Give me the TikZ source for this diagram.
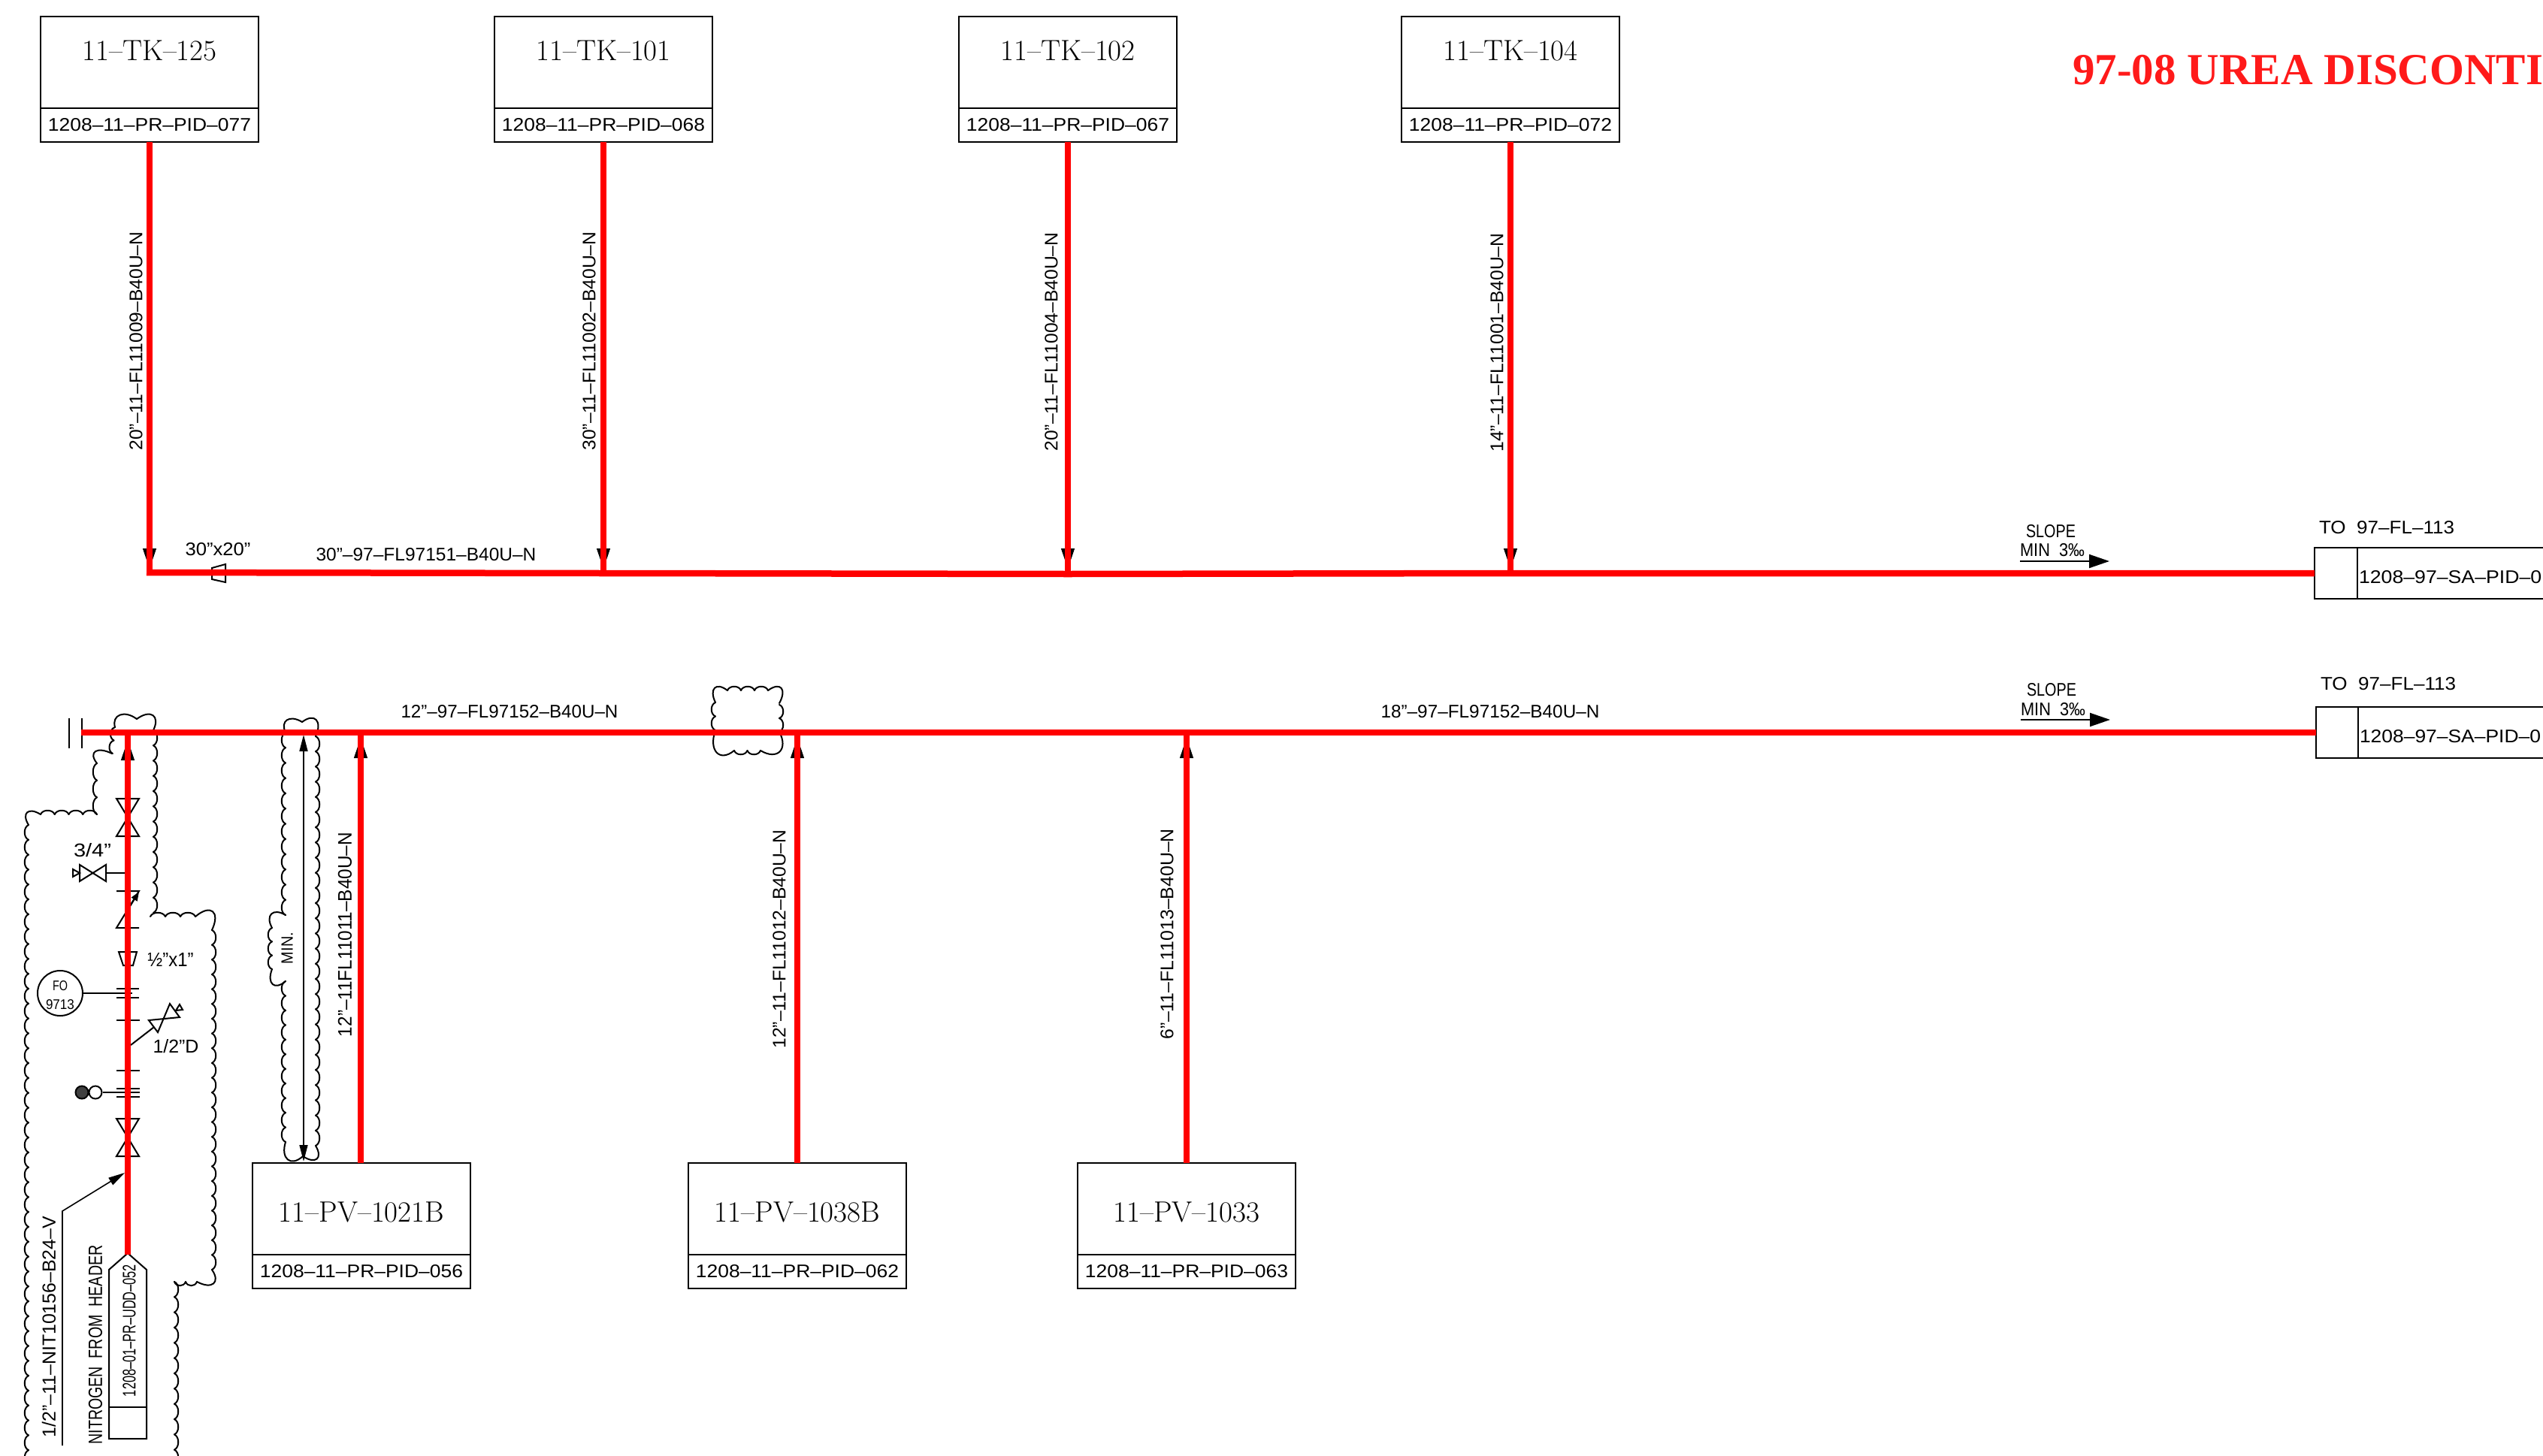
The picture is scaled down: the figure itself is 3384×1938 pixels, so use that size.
\documentclass[tikz,border=0pt]{standalone}
\usepackage{graphicx}
\usepackage{fontspec}
\newfontfamily\cad{Liberation Sans}
\newfontfamily\redserif{Liberation Serif}
\usetikzlibrary{arrows.meta}
\definecolor{pipered}{RGB}{255,0,0}
\definecolor{titlered}{RGB}{255,26,26}
\newcommand{\T}[3]{\resizebox{#1pt}{#2pt}{\cad #3}}
\tikzset{
  x=1pt,y=-1pt,
  lineblk/.style={draw=black,line width=2pt,line join=miter},
  tagbox/.style={draw=black,line width=2pt,inner sep=0pt,outer sep=0pt,fill=none},
  txt/.style={inner sep=0pt,outer sep=0pt,text=black},
  pipe/.style={draw=pipered,line width=8.5pt,line cap=butt},
  headtip/.style={draw=black,line width=1pt,-{Triangle[width=18pt,length=27pt]}},
  cloudline/.style={draw=black,line width=2pt,line cap=round},
  smallhead/.style={draw=black,line width=1.6pt,{Triangle[width=11pt,length=22pt]}-{Triangle[width=11pt,length=22pt]}},
  leader/.style={draw=black,line width=1.6pt,-{Triangle[width=11pt,length=22pt]}},
  slopearrow/.style={draw=black,line width=2pt,-{Triangle[width=18pt,length=27pt]}},
}
% scalloped edge, bulging outward for a clockwise outline
\newcommand{\scal}[4]{%
  \pgfmathsetmacro{\scLen}{veclen(#3-(#1),#4-(#2))}%
  \pgfmathtruncatemacro{\scN}{max(1,round(\scLen/20))}%
  \pgfmathsetmacro{\scUx}{(#3-(#1))/\scN}%
  \pgfmathsetmacro{\scUy}{(#4-(#2))/\scN}%
  \pgfmathsetmacro{\scNx}{(#4-(#2))/\scLen*7}%
  \pgfmathsetmacro{\scNy}{-(#3-(#1))/\scLen*7}%
  \foreach \i in {1,...,\scN}{%
    \draw[cloudline] ({#1+(\i-1)*\scUx},{#2+(\i-1)*\scUy})
      .. controls ({#1+(\i-0.85)*\scUx+\scNx},{#2+(\i-0.85)*\scUy+\scNy})
      and ({#1+(\i-0.15)*\scUx+\scNx},{#2+(\i-0.15)*\scUy+\scNy})
      .. ({#1+\i*\scUx},{#2+\i*\scUy});
  }%
}
\newcommand{\crn}[6]{\draw[cloudline] (#1,#2) .. controls ({#3+0.3*(#1-(#5))},{#4+0.3*(#2-(#6))}) and ({#3+0.3*(#5-(#1))},{#4+0.3*(#6-(#2))}) .. (#5,#6);}
\newcommand{\tagnode}[8]{%name cx top bottom div title label titley
  \node[tagbox,minimum width=290pt,minimum height={(#4-#3)*1pt}] (#1) at (#2,{(#3+#4)/2}) {};
  \coordinate (#1d) at (0,#5);
  \draw[lineblk] (#1.west |- #1d) -- (#1.east |- #1d);
  \node[txt] (#1t) at (#2,#8) {\fontsize{39}{44}\selectfont #6};
  \node[txt] (#1l) at (#2,{(#5+#4)/2}) {\T{270}{17}{#7}};
}
\begin{document}
\begin{tikzpicture}
\useasboundingbox (0,0) rectangle (3384,1938);
% cloud 1
\scal{38}{1950}{38}{1098}
\crn{38}{1098}{33}{1078}{54}{1084}
\scal{54}{1084}{129}{1084}
\scal{129}{1084}{129}{1016}
\crn{129}{1016}{123}{997}{149}{1003}
\scal{150}{1003}{153}{968}
\crn{153}{968}{157}{948}{182}{957}
\crn{182}{957}{207}{948}{204}{972}
\scal{204}{972}{204}{1215}
\scal{200}{1220}{260}{1220}
\crn{260}{1220}{287}{1208}{282}{1238}
\scal{282}{1238}{282}{1690}
\crn{282}{1690}{288}{1712}{262}{1706}
\scal{262}{1706}{232}{1706}
\scal{232}{1706}{232}{1950}
% cloud 2
\scal{380}{1218}{380}{975}
\crn{380}{975}{379}{955}{402}{961}
\crn{402}{961}{424}{954}{420}{980}
\scal{420}{980}{420}{1525}
\crn{420}{1525}{425}{1546}{403}{1539}
\crn{403}{1539}{380}{1548}{380}{1520}
\scal{380}{1520}{380}{1306}
\crn{380}{1306}{360}{1314}{362}{1290}
\scal{362}{1290}{362}{1235}
\crn{362}{1235}{358}{1213}{380}{1218}
% cloud 3
\crn{952}{935}{948}{912}{968}{919}
\scal{968}{919}{1022}{919}
\crn{1022}{919}{1043}{912}{1037}{936}
\scal{1037}{938}{1037}{974}
\crn{1037}{974}{1042}{1005}{1012}{999}
\scal{1012}{999}{977}{999}
\crn{977}{999}{950}{1007}{952}{972}
\scal{952}{972}{952}{935}

% boxes
\tagnode{tka}{199}{22}{189}{144}{11–TK–125}{1208–11–PR–PID–077}{67}
\tagnode{tkb}{803}{22}{189}{144}{11–TK–101}{1208–11–PR–PID–068}{67}
\tagnode{tkc}{1421}{22}{189}{144}{11–TK–102}{1208–11–PR–PID–067}{67}
\tagnode{tkd}{2010}{22}{189}{144}{11–TK–104}{1208–11–PR–PID–072}{67}
\tagnode{pva}{481}{1548}{1715}{1670}{11–PV–1021B}{1208–11–PR–PID–056}{1613}
\tagnode{pvb}{1061}{1548}{1715}{1670}{11–PV–1038B}{1208–11–PR–PID–062}{1613}
\tagnode{pvc}{1579}{1548}{1715}{1670}{11–PV–1033}{1208–11–PR–PID–063}{1613}

% off-page tags (right)
\node[tagbox,minimum width=340pt,minimum height=68pt] (toa) at (3250,763) {};
\node[tagbox,minimum width=340pt,minimum height=68pt] (tob) at (3252,975) {};
\coordinate (toad) at (3137,0);
\coordinate (tobd) at (3138,0);
\draw[lineblk] (toad |- toa.north) -- (toad |- toa.south);
\draw[lineblk] (tobd |- tob.north) -- (tobd |- tob.south);
\node[txt,anchor=west] (toal) at (3139,768) {\T{258}{17}{1208–97–SA–PID–01}};
\node[txt,anchor=west] (tobl) at (3140,980) {\T{241}{17}{1208–97–SA–PID–0}};
\node[txt] (toat) at (3176,702) {\T{180}{17}{TO\ \ 97–FL–113}};
\node[txt] (tobt) at (3178,910) {\T{180}{17}{TO\ \ 97–FL–113}};

% junctions and arrow tips
\coordinate (ja) at (199,762);
\coordinate (jb) at (803,763);
\coordinate (jc) at (1421,764);
\coordinate (jd) at (2010,763);
\coordinate (capr) at (108,975);
\coordinate (ke) at (170,975);
\coordinate (kf) at (480,975);
\coordinate (kg) at (1061,975);
\coordinate (kh) at (1579,975);
\coordinate (ta) at (199,757);
\coordinate (tb) at (803,757);
\coordinate (tc) at (1421,757);
\coordinate (td) at (2010,757);
\coordinate (te) at (170,985);
\coordinate (tf) at (480,982);
\coordinate (tg) at (1061,982);
\coordinate (th) at (1579,982);
\coordinate (nit) at (170,1670);

% arrowheads below the red pipes
\draw[headtip] (tka.south) -- (ta);
\draw[headtip] (tkb.south) -- (tb);
\draw[headtip] (tkc.south) -- (tc);
\draw[headtip] (tkd.south) -- (td);
\draw[headtip] (nit) -- (te);
\draw[headtip] (pva.north -| kf) -- (tf);
\draw[headtip] (pvb.north) -- (tg);
\draw[headtip] (pvc.north) -- (th);

% loop arrow
\coordinate (lt) at (404,978);
\coordinate (lb) at (404,1546);
\draw[smallhead] (lt) -- (lb);

% reducer on upper header
\draw[lineblk] (282,756) -- (300,751) -- (300,775) -- (282,771) -- cycle;

% instruments on the nitrogen line
\coordinate (v1a) at (155,1063); \coordinate (v1b) at (185,1063); \coordinate (v1c) at (155,1113); \coordinate (v1d) at (185,1113);
\draw[lineblk] (v1a) -- (v1b) -- (v1c) -- (v1d) -- cycle;
\coordinate (v2a) at (155,1489); \coordinate (v2b) at (185,1489); \coordinate (v2c) at (155,1539); \coordinate (v2d) at (185,1539);
\draw[lineblk] (v2a) -- (v2b) -- (v2c) -- (v2d) -- cycle;
\draw[lineblk] (106,1151) -- (141,1173) -- (141,1151) -- (106,1173) -- cycle;
\draw[lineblk] (97,1157) -- (106,1162) -- (97,1167) -- cycle;
\draw[lineblk] (141,1162) -- (167,1162);
\draw[lineblk] (155,1186) -- (185,1186) -- (155,1235) -- (185,1235);
\draw[draw=black,line width=2pt,-{Triangle[width=9pt,length=12pt]}] (170,1211) -- (185,1187);
\draw[lineblk] (158,1267) -- (182,1267) -- (177,1285) -- (164,1285) -- cycle;
\node[draw=black,line width=2pt,circle,minimum size=60pt,inner sep=0pt] (fo) at (80,1322) {};
\node[txt] (fot) at (80,1312) {\T{20}{13}{FO}};
\node[txt] (fon) at (80,1337) {\T{38}{13}{9713}};
\coordinate (orl) at (155,1322);
\draw[lineblk] (fo.east) -- (orl) -- (176,1322);
\draw[lineblk] (155,1316) -- (185,1316);
\draw[lineblk] (155,1328) -- (185,1328);
\draw[lineblk] (155,1358) -- (186,1358);
\draw[lineblk] (155,1425) -- (186,1425);
\draw[lineblk] (174,1391) -- (205,1367);
\draw[lineblk] (198,1358) -- (239,1354) -- (226,1336) -- (210,1374) -- cycle;
\draw[lineblk] (234,1345) -- (239,1337) -- (243,1344) -- cycle;
\node[circle,draw=black,fill=black!75,line width=2pt,minimum size=17pt,inner sep=0pt] (gd) at (109,1454) {};
\node[circle,draw=black,fill=white,line width=2pt,minimum size=17pt,inner sep=0pt] (wd) at (127,1454) {};
\coordinate (wde) at (186,1454);
\draw[lineblk] (wd.east) -- (wde);
\draw[lineblk] (155,1449) -- (186,1449);
\draw[lineblk] (155,1460) -- (186,1460);

% leader
\coordinate (lda) at (83,1924);
\coordinate (ldb) at (83,1612);
\coordinate (ldc) at (166,1561);
\draw[leader] (lda) -- (ldb) -- (ldc);

% off-page connector
\draw[lineblk] (145,1915) -- (145,1690) -- (170,1668) -- (195,1690) -- (195,1915) -- cycle;
\draw[lineblk] (145,1873) -- (195,1873);

% caps
\draw[lineblk] (92,956) -- (92,996);
\draw[lineblk] (109,956) -- (109,996);

% red pipes
\draw[pipe] (tka.south) -- (199,766);
\draw[pipe] (tkb.south) -- (jb);
\draw[pipe] (tkc.south) -- (jc);
\draw[pipe] (tkd.south) -- (jd);
\draw[pipe] (195,762) -- (jb) -- (jc) -- (jd) -- (toa.west);
\draw[pipe] (capr) -- (tob.west);
\draw[pipe] (nit) -- (170,971);
\draw[pipe] (pva.north -| kf) -- (kf);
\draw[pipe] (pvb.north) -- (kg);
\draw[pipe] (pvc.north) -- (kh);

% pipe labels
\node[txt,rotate=90] (la) at (181,454) {\T{291}{17}{20”–11–FL11009–B40U–N}};
\node[txt,rotate=90] (lb2) at (784,454) {\T{291}{17}{30”–11–FL11002–B40U–N}};
\node[txt,rotate=90] (lc) at (1399,455) {\T{291}{17}{20”–11–FL11004–B40U–N}};
\node[txt,rotate=90] (ld) at (1992,456) {\T{291}{17}{14”–11–FL11001–B40U–N}};
\node[txt] (le) at (567,738) {\T{293}{17}{30”–97–FL97151–B40U–N}};
\node[txt] (lf) at (290,731) {\T{87}{17}{30”x20”}};
\node[txt] (lg) at (678,947) {\T{289}{17}{12”–97–FL97152–B40U–N}};
\node[txt] (lh) at (1983,947) {\T{291}{17}{18”–97–FL97152–B40U–N}};
\node[txt,rotate=90] (li) at (459,1244) {\T{272}{18}{12”–11FL11011–B40U–N}};
\node[txt,rotate=90] (lj) at (1037,1250) {\T{291}{17}{12”–11–FL11012–B40U–N}};
\node[txt,rotate=90] (lk) at (1553,1243) {\T{280}{17}{6”–11–FL11013–B40U–N}};
\node[txt,rotate=90] (ll) at (382,1262) {\T{42}{15}{MIN.}};
\node[txt] (lm) at (123,1132) {\T{50}{18}{3/4”}};
\node[txt] (ln) at (227,1277) {\T{61}{18}{½”x1”}};
\node[txt] (lo) at (234,1393) {\T{61}{18}{1/2”D}};
\node[txt,rotate=90] (lp) at (65,1766) {\T{294}{18}{1/2”–11–NIT10156–B24–V}};
\node[txt,rotate=90] (lq) at (127,1790) {\T{265}{18}{NITROGEN\ \ FROM\ \ HEADER}};
\node[txt,rotate=90] (lr) at (172,1771) {\T{176}{17}{1208–01–PR–UDD–052}};

% slope marks
\node[txt] (sa) at (2729,707) {\T{66}{17}{SLOPE}};
\node[txt] (ma) at (2731,732) {\T{86}{17}{MIN\ \ 3‰}};
\coordinate (aa) at (2688,747); \coordinate (ab) at (2807,747);
\draw[slopearrow] (aa) -- (ab);
\node[txt] (sb) at (2730,918) {\T{66}{17}{SLOPE}};
\node[txt] (mb) at (2732,944) {\T{86}{17}{MIN\ \ 3‰}};
\coordinate (ba) at (2689,958); \coordinate (bb) at (2808,958);
\draw[slopearrow] (ba) -- (bb);

% red heading
\node[inner sep=0pt,anchor=west,text=titlered] (head) at (2758,93) {\redserif\bfseries\fontsize{59}{65}\selectfont 97-08 UREA DISCONTI};
\end{tikzpicture}
\end{document}
